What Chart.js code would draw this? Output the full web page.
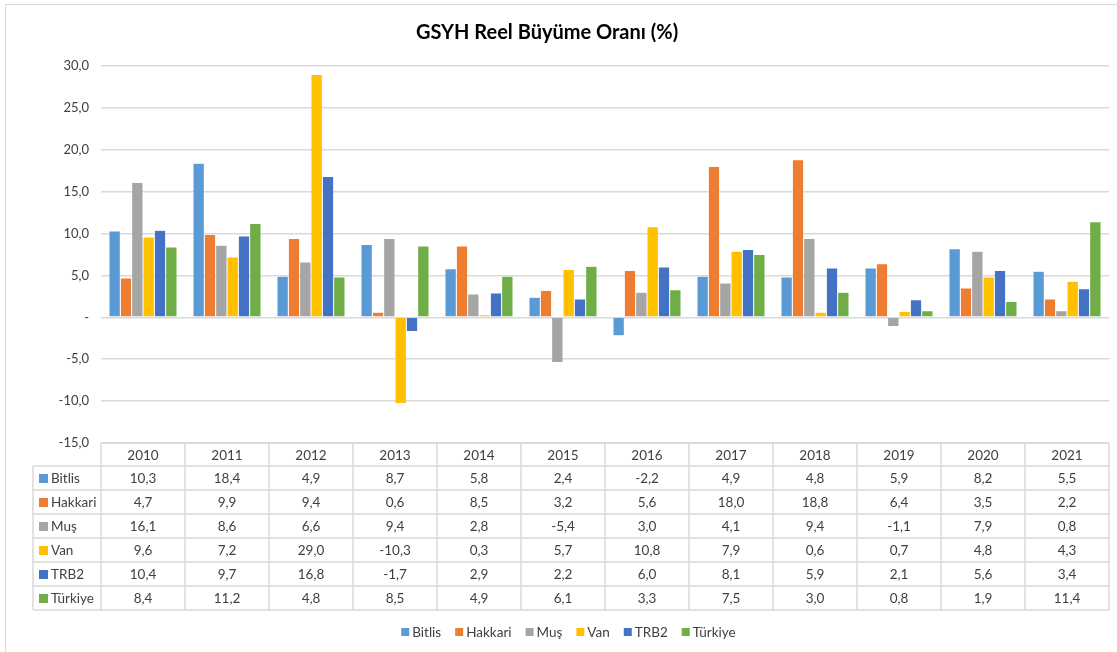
<!DOCTYPE html>
<html>
<head>
<meta charset="utf-8">
<script src="https://cdn.jsdelivr.net/npm/chart.js@4"></script>
<style>
  html, body { margin: 0; padding: 0; background: #fff; }
  #wrap { width: 1117px; height: 652px; position: relative; }
</style>
</head>
<body>
<div id="wrap"><canvas id="myChart" width="1117" height="652"></canvas></div>
<script>
// Data
const years = ['2010', '2011', '2012', '2013', '2014', '2015', '2016', '2017', '2018', '2019', '2020', '2021'];
const bitlis  = [10.3, 18.4, 4.9, 8.7, 5.8, 2.4, -2.2, 4.9, 4.8, 5.9, 8.2, 5.5];
const hakkari = [4.7, 9.9, 9.4, 0.6, 8.5, 3.2, 5.6, 18.0, 18.8, 6.4, 3.5, 2.2];
const mus     = [16.1, 8.6, 6.6, 9.4, 2.8, -5.4, 3.0, 4.1, 9.4, -1.1, 7.9, 0.8];
const van     = [9.6, 7.2, 29.0, -10.3, 0.3, 5.7, 10.8, 7.9, 0.6, 0.7, 4.8, 4.3];
const trb2    = [10.4, 9.7, 16.8, -1.7, 2.9, 2.2, 6.0, 8.1, 5.9, 2.1, 5.6, 3.4];
const turkiye = [8.4, 11.2, 4.8, 8.5, 4.9, 6.1, 3.3, 7.5, 3.0, 0.8, 1.9, 11.4];

const seriesNames = ['Bitlis', 'Hakkari', 'Muş', 'Van', 'TRB2', 'Türkiye'];
const seriesData = [bitlis, hakkari, mus, van, trb2, turkiye];
const colors = ['#5b9bd5', '#ed7d31', '#a5a5a5', '#ffc000', '#4472c4', '#70ad47'];

const FONT = 'Lato, "Open Sans", sans-serif';
const fmt = v => v.toFixed(1).replace('.', ',');

// title, data table and legend are drawn by hand around the plot area
const tablePlugin = {
    id: 'dataTable',
    afterDraw(chart) {
        const ctx = chart.ctx;
        const x = chart.scales.x;
        const area = chart.chartArea;
        const left = area.left, right = area.right;
        const colW = (right - left) / years.length;
        const top = area.bottom;
        const headH = 23, rowH = 24;
        const labelLeft = 33;

        ctx.save();
        // outer chart border
        ctx.strokeStyle = '#d9d9d9';
        ctx.lineWidth = 1;
        ctx.strokeRect(5.5, 4.5, 1130, 660);

        // title
        ctx.fillStyle = '#000';
        ctx.font = 'bold 20px ' + FONT;
        ctx.textAlign = 'center';
        ctx.textBaseline = 'middle';
        ctx.fillText('GSYH Reel Büyüme Oranı (%)', 547, 33);

        // table grid
        ctx.strokeStyle = '#d9d9d9';
        ctx.lineWidth = 1.5;
        const bottom = top + headH + rowH * seriesNames.length;
        ctx.beginPath();
        ctx.moveTo(left, top); ctx.lineTo(right, top);
        for (let r = 0; r <= seriesNames.length; r++) {
            const y = top + headH + r * rowH;
            ctx.moveTo(labelLeft, y); ctx.lineTo(right, y);
        }
        for (let c = 0; c <= years.length; c++) {
            const cx = left + c * colW;
            ctx.moveTo(cx, top); ctx.lineTo(cx, bottom);
        }
        ctx.moveTo(labelLeft, top + headH); ctx.lineTo(labelLeft, bottom);
        ctx.stroke();

        // header years
        ctx.font = '13.5px ' + FONT;
        ctx.fillStyle = '#404040';
        ctx.textAlign = 'center';
        years.forEach((yr, i) => {
            ctx.fillText(yr, x.getPixelForValue(i), top + headH / 2 + 1);
        });

        // rows
        seriesNames.forEach((name, r) => {
            const cy = top + headH + r * rowH + rowH / 2 + 1;
            ctx.fillStyle = colors[r];
            ctx.fillRect(labelLeft + 6, cy - 5, 9, 9);
            ctx.fillStyle = '#404040';
            ctx.textAlign = 'left';
            ctx.fillText(name, labelLeft + 18, cy);
            ctx.textAlign = 'center';
            seriesData[r].forEach((v, i) => {
                ctx.fillText(fmt(v), x.getPixelForValue(i), cy);
            });
        });

        // legend
        ctx.textAlign = 'left';
        const gap = 13;
        const widths = seriesNames.map(n => 12 + ctx.measureText(n).width);
        const total = widths.reduce((a, b) => a + b, 0) + gap * (seriesNames.length - 1);
        let lx = 569 - total / 2;
        const ly = 632;
        seriesNames.forEach((name, i) => {
            ctx.fillStyle = colors[i];
            ctx.fillRect(lx, ly - 4, 8, 8);
            ctx.fillStyle = '#404040';
            ctx.fillText(name, lx + 11, ly + 1);
            lx += widths[i] + gap;
        });
        ctx.restore();
    }
};

const ctx = document.getElementById('myChart').getContext('2d');
const myChart = new Chart(ctx, {
    type: 'bar',
    data: {
        labels: years,
        datasets: seriesNames.map((name, i) => ({
            label: name,
            data: seriesData[i],
            backgroundColor: colors[i],
            borderColor: 'rgba(255,255,255,0.6)',
            borderWidth: 0.5,
            barPercentage: 1.0,
            categoryPercentage: 0.81
        }))
    },
    options: {
        responsive: false,
        animation: false,
        layout: { padding: { left: 33, right: 8, top: 66, bottom: 209 } },
        plugins: {
            legend: { display: false },
            title: { display: false },
            tooltip: { enabled: false }
        },
        scales: {
            x: {
                display: false,
                grid: { display: false }
            },
            y: {
                min: -15,
                max: 30,
                afterFit(scale) { scale.width = 68; },
                ticks: {
                    stepSize: 5,
                    padding: 12,
                    color: '#404040',
                    font: { family: FONT, size: 13 },
                    callback: v => v === 0 ? '-' : fmt(v)
                },
                grid: { color: '#d9d9d9', lineWidth: 1.5, drawTicks: false },
                border: { display: false }
            }
        }
    },
    plugins: [tablePlugin]
});
</script>
</body>
</html>
